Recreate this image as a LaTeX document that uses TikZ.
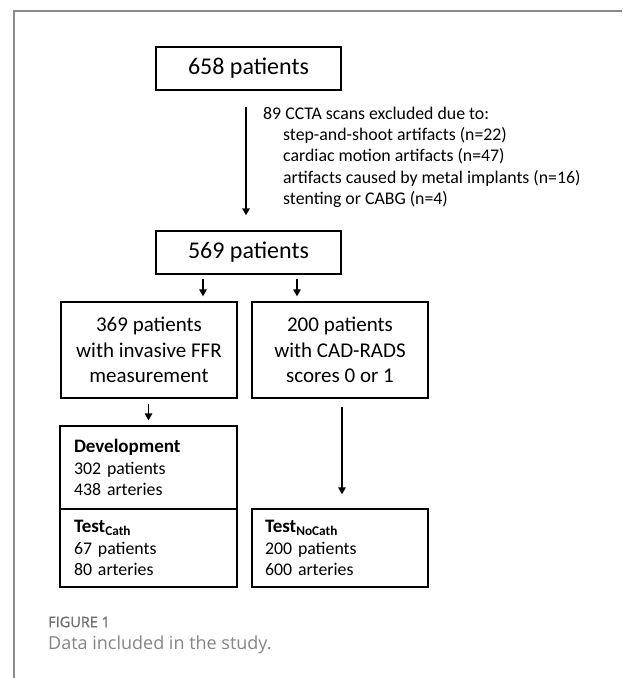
\documentclass[tikz,border=0pt]{standalone}
\usepackage{fontspec}
\setmainfont{Carlito}
\newfontfamily\capfont{Open Sans}
\newfontfamily\figfont[FakeBold=1.2]{Open Sans}
\usetikzlibrary{arrows.meta,calc}
\definecolor{framegray}{HTML}{8A8A8A}
\definecolor{figgray}{HTML}{707070}
\definecolor{capgray}{HTML}{858585}
\begin{document}
\begin{tikzpicture}[x=1pt,y=-1pt,
  box/.style={draw, line width=1.3pt, inner sep=0pt},
  big/.style={font=\fontsize{24}{29}\selectfont},
  mid/.style={font=\fontsize{21}{25.5}\selectfont, align=center},
  small/.style={font=\fontsize{17.8}{21.5}\selectfont},
  exl/.style={small, inner sep=0pt, anchor=west},
  listbox/.style={box, small, align=left, inner ysep=0pt},
  arr/.style={-{Triangle[width=7.5pt,length=7pt]}, line width=1.3pt}]
\useasboundingbox (0,0) rectangle (622,678);
\draw[framegray, line width=1.2pt] (622,11) -- (14,11) -- (14,678);

\node[box, big, minimum width=185pt, minimum height=43pt] (b658) at (248.5,68.5) {658 patients};
\node[box, big, minimum width=185pt, minimum height=43pt] (b569) at (248.5,252.5) {569 patients};

\node[exl] (ex0) at (263,113) {89 CCTA scans excluded due to:};
\node[exl] (ex1) at (283,135) {step-and-shoot artifacts (n=22)};
\node[exl] (ex2) at (283,156.5) {cardiac motion artifacts (n=47)};
\node[exl] (ex3) at (283,178) {artifacts caused by metal implants (n=16)};
\node[exl] (ex4) at (283,199.5) {stenting or CABG (n=4)};

\node[box, mid, minimum width=176pt, minimum height=96pt] (b369) at (149,350) {369 patients\\with invasive FFR\\measurement};
\node[box, mid, minimum width=176pt, minimum height=96pt] (b200) at (340,350) {200 patients\\with CAD-RADS\\scores 0 or 1};

\node[listbox, text width=149pt, inner xsep=14pt, minimum height=83pt] (dev) at (148.5,467.5)
  {{\fontsize{19}{21.5}\selectfont\textbf{Development}}\\302 patients\\438 arteries};
\node[listbox, text width=149pt, inner xsep=14pt, minimum height=78pt] (tcath) at (148.5,548)
  {{\fontsize{19}{21.5}\selectfont\textbf{Test\textsubscript{Cath}}}\\67 patients\\80 arteries};
\node[listbox, text width=150pt, inner xsep=13pt, minimum height=78pt] (tnocath) at (340,548)
  {{\fontsize{19}{21.5}\selectfont\textbf{Test\textsubscript{NoCath}}}\\200 patients\\600 arteries};

\draw[arr, shorten <=16pt, shorten >=15pt] ([xshift=-2.5pt]b658.south) -- ([xshift=-2.5pt]b569.north);
\draw[arr, shorten <=4pt, shorten >=5pt] (b569.south -| 203,0) -- (b369.north -| 203,0);
\draw[arr, shorten <=4pt, shorten >=5pt] (b569.south -| 297,0) -- (b369.north -| 297,0);
\draw[arr, shorten <=5pt, shorten >=5pt] (b369.south -| dev.north) -- (dev.north);
\draw[arr, shorten <=8pt, shorten >=14pt] (b200.south -| 342,0) -- (tnocath.north -| 342,0);

\node[anchor=west, inner sep=0pt, text=figgray, font=\figfont\fontsize{14.5}{17}\selectfont] (fig) at (48,622) {FIGURE 1};
\node[anchor=west, inner sep=0pt, text=capgray, font=\capfont\fontsize{18}{21}\selectfont] (cap) at (48,645) {Data included in the study.};
\end{tikzpicture}
\end{document}
